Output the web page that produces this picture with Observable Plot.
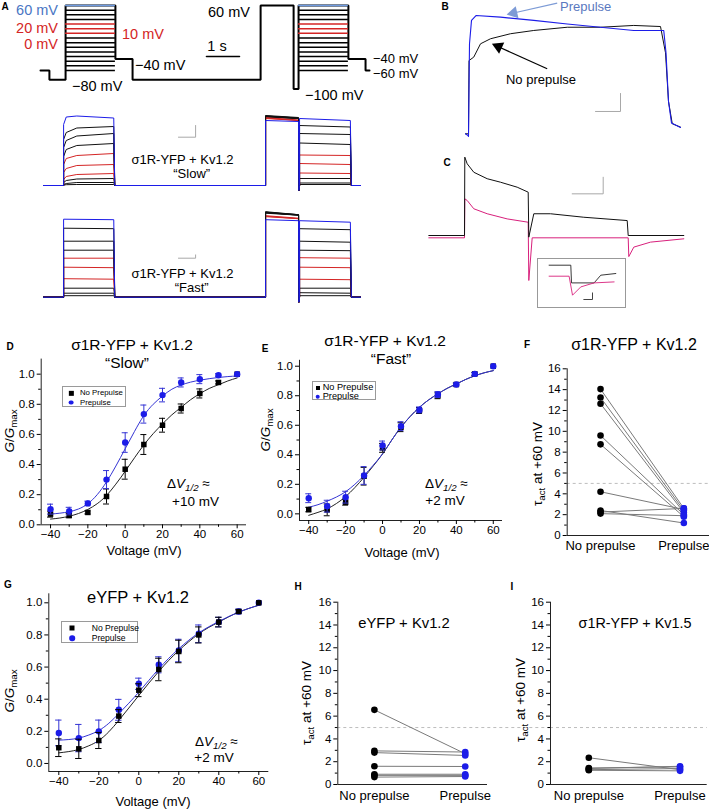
<!DOCTYPE html>
<html><head><meta charset="utf-8">
<script src="https://cdn.jsdelivr.net/npm/d3@7"></script>
<script src="https://cdn.jsdelivr.net/npm/@observablehq/plot@0.6"></script>
<style>
html,body{margin:0;padding:0;background:#fff;}
#root{position:relative;width:709px;height:810px;overflow:hidden;background:#fff;font-family:"Liberation Sans",Arial,Helvetica,sans-serif;color:#000;}
#root svg{position:absolute;overflow:visible;}
.tx{position:absolute;white-space:nowrap;line-height:1;}
.tx sub{font-size:0.72em;vertical-align:-0.3em;line-height:0;}
.lg{position:absolute;border:1px solid #9a9a9a;background:#fff;box-sizing:border-box;}
.lg .row{position:absolute;white-space:nowrap;line-height:1;transform:translateY(-50%);}
.lg .mk{position:absolute;transform:translate(-50%,-50%);}
</style></head><body><div id="root"></div>
<script>
// ===================== DATA =====================
// Panel A – voltage protocol (schematic), time in s, level in mV
const protoT = [0, 0.27, 0.27, 0.76, 0.76, 2.27, 2.27, 2.79, 2.79, 6.67, 6.67, 7.67, 7.67, 7.82, 7.82, 9.33, 9.33, 9.85, 9.85, 9.97];
const protoV = [-80, -80, -100, -100, 60, 60, -55, -55, -100, -100, 60, 60, -120, -120, 60, 60, -55, -55, -80, -80];
const protoLevels = [60, 50, 40, 30, 20, 10, 0, -10, -20, -30, -40, -50, -60, -70, -80];
const protoRedLevels = [20, 10, 0];
const protoStepStart = [0.76, 7.82];
const protoStepEnd = [2.27, 9.33];

// Panel A – current traces (arbitrary units), one row per test level
const traceLevels = [60, 50, 40, 30, 20, 10, 0, -10, -20, -30];
const traceEvents = [0.09, 0.70, 2.22, 6.82, 7.82, 7.85, 9.39, 9.70]; // start, step1 on/off, prepulse on/off, step2 on/off, end
const slowRiseT = [0, 0.08, 0.4];
const slowStep1 = [[6.1,6.85,6.95,6.75],[4.6,5.3,5.75,5.9],[3.8,4.5,4.95,5.2],[2.9,3.6,4.0,4.2],[2.1,2.7,3.0,3.2],[1.3,1.7,2.0,2.1],[0.6,0.9,1.1,1.2],[0.3,0.5,0.65,0.7],[0.1,0.2,0.3,0.3],[0.05,0.08,0.1,0.1]];
const slowPre = [[6.5,6.4],[7.0,6.8],[6.95,6.75],[6.9,6.7],[6.8,6.55],[6.75,6.5],[6.7,6.5],[6.95,6.75],[6.9,6.7],[6.85,6.7]];
const slowStep2 = [[6.7,6.5],[6.0,5.85],[5.2,5.1],[4.25,4.1],[3.05,3.0],[2.2,2.1],[1.25,1.2],[0.7,0.7],[0.25,0.25],[0.1,0.1]];
const fastStep1 = [[7.8,7.75],[6.9,6.85],[5.6,5.6],[4.7,4.7],[3.9,3.9],[3.0,2.95],[1.85,1.8],[0.9,0.9],[0.4,0.4],[0.15,0.15]];
const fastPre = [[7.75,7.65],[8.55,8.25],[8.5,8.2],[8.45,8.2],[8.15,7.9],[8.1,7.85],[8.05,7.85],[8.5,8.25],[8.45,8.25],[8.4,8.2]];
const fastStep2 = [[7.65,7.5],[6.85,6.75],[5.6,5.5],[4.7,4.65],[3.95,3.9],[3.0,2.95],[1.8,1.75],[0.9,0.9],[0.45,0.4],[0.15,0.15]];
const slowBar = [4.70, 4.83, 0.52, 1.17]; // corner t, corner I, dt, dI
const fastBar = [4.70, 3.90, 0.52, 0.33];

// Panel B – currents at +60 mV (t ms, I nA)
const bBlueT = [-12, -2, 0, 4, 12, 30, 128, 261, 395, 528, 661, 781, 790, 800, 812, 848];
const bBlueI = [0, -0.1, -0.15, 5.0, 6.3, 6.57, 6.48, 6.3, 6.1, 5.92, 5.74, 5.74, 4.5, 1.8, 0.6, 0.35];
const bBlackT = [-12, 0, 2, 21, 48, 88, 168, 261, 395, 528, 661, 768, 788, 800, 815, 848];
const bBlackI = [0, 0, 4.07, 4.26, 5.0, 5.28, 5.56, 5.74, 5.92, 5.92, 6.02, 5.96, 4.5, 1.8, 0.56, 0.37];
const bArrowFrom = [[354.8, 7.26], [314.8, 3.61]];
const bArrowTo = [[168, 6.67], [108, 4.91]];
const bBar = [608, 1.24, 100, 1.0];

// Panel C – gating/ionic currents
const cBlackT = [-144, -1.2, 0, 9.6, 36, 89.6, 142.8, 209.6, 253.6, 256, 276, 342.8, 476, 649.6, 653.6, 876];
const cBlackI = [0, 0, 4.72, 4.32, 3.81, 3.42, 3.21, 2.91, 2.61, -0.1, 1.31, 1.31, 1.1, 0.9, 0, 0];
const cPinkT = [-144, -1.2, 0, 9.6, 36, 89.6, 169.6, 253.6, 256, 269.6, 653.6, 656, 676, 742.8, 876];
const cPinkI = [-0.14, -0.14, 2.21, 2.11, 1.61, 1.31, 1.0, 0.8, -2.71, -0.14, -0.14, -1.27, -0.7, -0.4, -0.2];
const cBar = [553.6, 2.51, 124, 1.0];
const insetBlackT = [11.6, 33.3, 34, 56.6, 63.3, 78.3];
const insetBlackI = [1.33, 1.33, -0.44, -0.44, 0.33, 0.5];
const insetPinkT = [11.6, 31.6, 35, 43.3, 56.6, 76.6];
const insetPinkI = [0.23, 0.23, -1.67, -0.84, -0.44, -0.34];
const insetBar = [55, -2.1, 8.7, 0.66];

// Panels D, E, G – G/Gmax vs voltage
const volts = [-40, -30, -20, -10, 0, 10, 20, 30, 40, 50, 60];
const fitVolts = [-40, -35, -30, -25, -20, -15, -10, -5, 0, 5, 10, 15, 20, 25, 30, 35, 40, 45, 50, 55, 60];
const dNoPre = [0.071, 0.062, 0.082, 0.188, 0.369, 0.533, 0.661, 0.772, 0.872, 0.945, 1.0];
const dNoPreErr = [0.02, 0.015, 0.01, 0.05, 0.066, 0.066, 0.046, 0.03, 0.03, 0.01, 0];
const dPre = [0.104, 0.091, 0.142, 0.30, 0.546, 0.735, 0.861, 0.945, 0.967, 0.993, 1.0];
const dPreErr = [0.033, 0.025, 0.015, 0.06, 0.065, 0.06, 0.045, 0.03, 0.03, 0.01, 0];
const dFitNo = [0.038, 0.045, 0.057, 0.075, 0.102, 0.14, 0.195, 0.27, 0.355, 0.445, 0.53, 0.605, 0.67, 0.73, 0.78, 0.83, 0.87, 0.905, 0.93, 0.955, 0.975];
const dFitPre = [0.071, 0.077, 0.087, 0.105, 0.14, 0.2, 0.285, 0.39, 0.505, 0.62, 0.725, 0.8, 0.855, 0.9, 0.928, 0.947, 0.96, 0.97, 0.978, 0.984, 0.988];
const eNoPre = [0.029, 0.027, 0.079, 0.255, 0.447, 0.587, 0.70, 0.80, 0.876, 0.948, 1.0];
const eNoPreErr = [0.015, 0.04, 0.02, 0.06, 0.03, 0.03, 0.02, 0.02, 0.01, 0.01, 0];
const ePre = [0.106, 0.052, 0.113, 0.26, 0.463, 0.594, 0.704, 0.808, 0.876, 0.948, 1.0];
const ePreErr = [0.03, 0.04, 0.04, 0.06, 0.03, 0.03, 0.02, 0.02, 0.01, 0.01, 0];
const eFitNo = [-0.01, 0.01, 0.034, 0.07, 0.117, 0.178, 0.248, 0.325, 0.406, 0.5, 0.587, 0.66, 0.722, 0.772, 0.813, 0.85, 0.88, 0.91, 0.935, 0.955, 0.97];
const eFitPre = [0.045, 0.062, 0.086, 0.114, 0.15, 0.2, 0.26, 0.33, 0.406, 0.5, 0.587, 0.66, 0.722, 0.772, 0.813, 0.85, 0.88, 0.91, 0.935, 0.955, 0.97];
const gNoPre = [0.098, 0.091, 0.143, 0.295, 0.456, 0.585, 0.697, 0.80, 0.88, 0.946, 1.0];
const gNoPreErr = [0.055, 0.06, 0.05, 0.04, 0.04, 0.07, 0.07, 0.05, 0.03, 0.01, 0];
const gPre = [0.19, 0.158, 0.20, 0.334, 0.496, 0.614, 0.703, 0.807, 0.88, 0.946, 1.0];
const gPreErr = [0.08, 0.085, 0.07, 0.065, 0.035, 0.05, 0.07, 0.055, 0.03, 0.015, 0];
const gFitNo = [0.066, 0.074, 0.087, 0.11, 0.143, 0.197, 0.268, 0.345, 0.423, 0.5, 0.573, 0.642, 0.703, 0.758, 0.807, 0.847, 0.88, 0.913, 0.942, 0.965, 0.985];
const gFitPre = [0.145, 0.149, 0.158, 0.177, 0.205, 0.25, 0.31, 0.375, 0.444, 0.517, 0.589, 0.655, 0.714, 0.767, 0.813, 0.851, 0.884, 0.915, 0.942, 0.965, 0.985];
const gvTicksMajor = [-40, -20, 0, 20, 40, 60];
const gvTicksMinor = [-30, -10, 10, 30, 50];
const gTicksMajor = [0, 0.2, 0.4, 0.6, 0.8, 1.0];
const gTicksMinor = [0.1, 0.3, 0.5, 0.7, 0.9];

// Panels F, H, I – tau_act at +60 mV, paired cells
const tauCats = ["No prepulse", "Prepulse"];
const fNoPre = [14.05, 13.25, 12.65, 9.6, 8.75, 4.2, 2.4, 2.25, 2.1];
const fPre = [2.6, 2.4, 2.2, 2.0, 1.8, 2.5, 1.2, 2.6, 1.9];
const hNoPre = [6.55, 2.95, 2.8, 1.6, 0.9, 0.8, 0.65];
const hPre = [2.7, 2.85, 2.55, 1.58, 0.9, 0.8, 0.7];
const iNoPre = [2.35, 1.45, 1.4, 1.3, 1.25];
const iPre = [1.3, 1.55, 1.6, 1.4, 1.2];
const tauThreshold = [5];
const tauTicksMajor = [0, 2, 4, 6, 8, 10, 12, 14, 16];
const tauTicksMinor = [1, 3, 5, 7, 9, 11, 13, 15];

// ===================== STYLE =====================
const FONT = '"Liberation Sans", Arial, Helvetica, sans-serif';
const BLUE = "#1c1ce8";
const FITBLUE = "#3434d4";
const RED = "#d42525";
const PINK = "#d8207c";
const PROTOBLUE = "#6f9be0";
const LABELBLUE = "#4a76c4";
const root = document.getElementById("root");
const baseStyle = {background: "none", overflow: "visible", fontFamily: FONT, fontSize: "11.5px", color: "#000"};

function put(svg, left, top) { svg.style.left = left + "px"; svg.style.top = top + "px"; root.appendChild(svg); }
function T(html, x, y, o = {}) {
  const d = document.createElement("div");
  d.className = "tx"; d.innerHTML = html;
  d.style.fontSize = (o.size || 13) + "px";
  if (o.lh) d.style.lineHeight = o.lh;
  d.style.left = x + "px"; d.style.top = y + "px";
  if (o.color) d.style.color = o.color;
  if (o.bold) d.style.fontWeight = "bold";
  const ax = o.anchor === "start" ? "0" : o.anchor === "end" ? "-100%" : "-50%";
  d.style.transform = `translate(${ax},-50%)` + (o.rotate ? ` rotate(${o.rotate}deg)` : "");
  root.appendChild(d);
}
const zipTI = (t, i) => t.map((v, k) => ({t: v, i: i[k]}));
const lBar = ([t, i, dt, di]) => [{t: t - dt, i}, {t, i}, {t, i: i + di}];
const levelColor = v => v === 60 ? BLUE : protoRedLevels.includes(v) ? RED : "#111";

// ===================== PANEL A: protocol =====================
{
  const path = zipTI(protoT, protoV);
  const segs = [];
  protoStepStart.forEach((s, w) => protoLevels.forEach(v => segs.push({v, s, e: protoStepEnd[w]})));
  const svg = Plot.plot({
    width: 380, height: 100, margin: 0,
    x: {domain: [0, 10], range: [40, 370], axis: null},
    y: {domain: [-80, 60], range: [70, 5], axis: null},
    style: baseStyle,
    marks: [
      Plot.line(path, {x: "t", y: "i", stroke: "#000", strokeWidth: 2, strokeLinejoin: "miter"}),
      Plot.ruleY(segs, {y: "v", x1: "s", x2: "e", stroke: d => d.v === 60 ? PROTOBLUE : protoRedLevels.includes(d.v) ? RED : "#000", strokeWidth: 1.5})
    ]
  });
  put(svg, 0, 0);
  const sb = Plot.plot({
    width: 380, height: 100, margin: 0,
    x: {domain: [0, 10], range: [40, 370], axis: null},
    y: {domain: [0, 1], range: [56, 0], axis: null},
    style: baseStyle,
    marks: [Plot.line([{t: 5.03, i: 0}, {t: 6.03, i: 0}], {x: "t", y: "i", stroke: "#000", strokeWidth: 1.6})]
  });
  put(sb, 0, 0);
}

// ===================== PANEL A: traces =====================
function buildTrace(s1, pre, s2) {
  const [t0, on1, off1, onP, offP, on2, off2, tEnd] = traceEvents;
  const p = [[t0, 0], [on1, 0]];
  if (s1.length === 4) { p.push([on1, s1[0]], [on1 + slowRiseT[1], s1[1]], [on1 + slowRiseT[2], s1[2]], [off1, s1[3]]); }
  else { p.push([on1, s1[0]], [off1, s1[1]]); }
  p.push([off1 + 0.03, 0], [onP, 0], [onP, pre[0]], [offP, pre[1]], [offP + 0.01, -0.5], [on2, 0], [on2, s2[0]], [off2, s2[1]], [off2 + 0.03, 0], [tEnd, 0]);
  return p.map(([t, i]) => ({t, i}));
}
function tracePlot(step1, pre, step2, yDom, yRange, bar, h) {
  const order = traceLevels.map((v, k) => k).reverse();
  const marks = order.map(k => Plot.line(buildTrace(step1[k], pre[k], step2[k]), {x: "t", y: "i", stroke: levelColor(traceLevels[k]), strokeWidth: 1}));
  marks.push(Plot.line(lBar(bar), {x: "t", y: "i", stroke: "#a8a8a8", strokeWidth: 1}));
  return Plot.plot({
    width: 380, height: h, margin: 0,
    x: {domain: [0, 10], range: [40, 370], axis: null},
    y: {domain: yDom, range: yRange, axis: null},
    style: baseStyle, marks
  });
}
put(tracePlot(slowStep1, slowPre, slowStep2, [0, 7], [85, 15], slowBar, 100), 0, 100);
put(tracePlot(fastStep1, fastPre, fastStep2, [0, 8.6], [96.7, 10.7], fastBar, 110), 0, 200);

// ===================== PANEL B =====================
{
  const bx = d3.scaleLinear().domain([0, 800]).range([68, 268]);
  const by = d3.scaleLinear().domain([0, 7]).range([133.3, 7.3]);
  const arrows = bArrowFrom.map((f, k) => {
    const [t2, i2] = bArrowTo[k];
    const dx = bx(t2) - bx(f[0]), dy = by(i2) - by(f[1]);
    const len = Math.hypot(dx, dy);
    const back = 3.2;
    return {t1: f[0], i1: f[1], t2, i2, rot: Math.atan2(dx, -dy) * 180 / Math.PI,
      tc: bx.invert(bx(t2) - dx / len * back), ic: by.invert(by(i2) - dy / len * back), c: k === 0 ? "#7d9bd6" : "#000"};
  });
  const svg = Plot.plot({
    width: 309, height: 145, margin: 0,
    x: {domain: bx.domain(), range: bx.range(), axis: null},
    y: {domain: by.domain(), range: by.range(), axis: null},
    style: baseStyle,
    marks: [
      Plot.line(zipTI(bBlackT, bBlackI), {x: "t", y: "i", stroke: "#111", strokeWidth: 1}),
      Plot.line(zipTI(bBlueT, bBlueI), {x: "t", y: "i", stroke: BLUE, strokeWidth: 1.1}),
      Plot.line(lBar(bBar), {x: "t", y: "i", stroke: "#a8a8a8", strokeWidth: 1}),
      Plot.link(arrows, {x1: "t1", y1: "i1", x2: "tc", y2: "ic", stroke: "c", strokeWidth: 1.2}),
      Plot.dot(arrows, {x: "tc", y: "ic", symbol: "triangle", rotate: "rot", r: 4.6, fill: "c", stroke: "none"})
    ]
  });
  put(svg, 400, 0);
}

// ===================== PANEL C =====================
{
  const svg = Plot.plot({
    width: 309, height: 170, margin: 0,
    x: {domain: [0, 800], range: [64.3, 264.3], axis: null},
    y: {domain: [0, 5], range: [90, 7], axis: null},
    style: baseStyle,
    marks: [
      Plot.line(zipTI(cPinkT, cPinkI), {x: "t", y: "i", stroke: PINK, strokeWidth: 1}),
      Plot.line(zipTI(cBlackT, cBlackI), {x: "t", y: "i", stroke: "#111", strokeWidth: 1}),
      Plot.line(lBar(cBar), {x: "t", y: "i", stroke: "#a8a8a8", strokeWidth: 1})
    ]
  });
  put(svg, 400, 145);
  const inset = Plot.plot({
    width: 88, height: 49, margin: 0,
    x: {domain: [0, 88], range: [0, 88], axis: null},
    y: {domain: [0, 2], range: [20, 0], axis: null},
    style: baseStyle,
    marks: [
      Plot.frame({stroke: "#999", strokeWidth: 1}),
      Plot.line(zipTI(insetBlackT, insetBlackI), {x: "t", y: "i", stroke: "#222", strokeWidth: 0.9}),
      Plot.line(zipTI(insetPinkT, insetPinkI), {x: "t", y: "i", stroke: PINK, strokeWidth: 0.9}),
      Plot.line(lBar(insetBar), {x: "t", y: "i", stroke: "#444", strokeWidth: 1})
    ]
  });
  put(inset, 536.7, 258.3);
}

// ===================== PANELS D, E, G =====================
function gvPlot(o) {
  const mk = (m, e) => volts.map((v, k) => ({v, m: m[k], e: e[k]}));
  const noData = mk(o.no, o.noErr), preData = mk(o.pre, o.preErr);
  const fit = f => fitVolts.map((v, k) => ({v, g: f[k]}));
  const cap = 1.6;
  const err = (data, c) => {
    const d = data.filter(x => x.e > 0);
    return [
      Plot.ruleX(d, {x: "v", y1: x => x.m - x.e, y2: x => x.m + x.e, stroke: c, strokeWidth: 1}),
      Plot.ruleY(d, {y: x => x.m + x.e, x1: x => x.v - cap, x2: x => x.v + cap, stroke: c, strokeWidth: 1}),
      Plot.ruleY(d, {y: x => x.m - x.e, x1: x => x.v - cap, x2: x => x.v + cap, stroke: c, strokeWidth: 1})
    ];
  };
  const blackDots = Plot.dot(noData, {x: "v", y: "m", symbol: "square", r: 3.1, fill: "#000", stroke: "none"});
  const blueDots = Plot.dot(preData, {x: "v", y: "m", symbol: "circle", r: 3.2, fill: BLUE, stroke: "none"});
  return Plot.plot({
    width: o.w, height: o.h, marginLeft: o.ml, marginRight: o.mr, marginTop: o.mt, marginBottom: o.mb,
    x: {domain: [-45, 65]}, y: {domain: o.ydom},
    style: baseStyle,
    marks: [
      Plot.ruleX([-45], {stroke: "#222"}),
      Plot.ruleY([o.ydom[0]], {stroke: "#222"}),
      Plot.axisX(gvTicksMajor, {tickSize: 4, tickPadding: 1.5, tickFormat: d3.format("d"), label: null}),
      Plot.axisX(gvTicksMinor, {tickSize: 2.5, tickFormat: () => "", label: null}),
      Plot.axisY(gTicksMajor, {tickSize: 4, tickPadding: 2.5, tickFormat: d3.format(".1f"), label: null}),
      Plot.axisY(gTicksMinor, {tickSize: 2.5, tickFormat: () => "", label: null}),
      Plot.line(fit(o.fitNo), {x: "v", y: "g", stroke: "#222", strokeWidth: 1, curve: "natural"}),
      Plot.line(fit(o.fitPre), {x: "v", y: "g", stroke: FITBLUE, strokeWidth: 1, curve: "natural"}),
      ...(o.blueFirst ? [...err(preData, FITBLUE), blueDots, ...err(noData, "#000"), blackDots]
                      : [...err(noData, "#000"), blackDots, ...err(preData, FITBLUE), blueDots])
    ]
  });
}
put(gvPlot({w: 250, h: 215, ml: 40.7, mr: 4, mt: 28.6, mb: 20.7, ydom: [0, 1.1],
  no: dNoPre, noErr: dNoPreErr, pre: dPre, preErr: dPreErr, fitNo: dFitNo, fitPre: dFitPre}), 0, 330);
put(gvPlot({w: 255, h: 215, ml: 49, mr: 3, mt: 29.8, mb: 25, ydom: [-0.045, 1.04],
  no: eNoPre, noErr: eNoPreErr, pre: ePre, preErr: ePreErr, fitNo: eFitNo, fitPre: eFitPre}), 250, 330);
put(gvPlot({w: 275, h: 210, ml: 48.3, mr: 6.7, mt: 13.3, mb: 19, ydom: [-0.05, 1.056], blueFirst: true,
  no: gNoPre, noErr: gNoPreErr, pre: gPre, preErr: gPreErr, fitNo: gFitNo, fitPre: gFitPre}), 0, 580);

// ===================== PANELS F, H, I =====================
function tauPlot(o) {
  const long = [];
  o.no.forEach((v, k) => { long.push({cat: tauCats[0], pair: k, tau: v}); long.push({cat: tauCats[1], pair: k, tau: o.pre[k]}); });
  const xi = d => tauCats.indexOf(d.cat);
  const dash = o.dashTo != null ? {x1: o.xdom[0], x2: o.dashTo} : {};
  return Plot.plot({
    width: o.w, height: o.h, marginLeft: o.ml, marginRight: o.mr, marginTop: o.mt, marginBottom: o.mb,
    x: {domain: o.xdom}, y: {domain: [0, 16]},
    style: baseStyle,
    marks: [
      Plot.ruleY(tauThreshold, {...dash, stroke: "#bdbdbd", strokeWidth: 1, strokeDasharray: "3,3"}),
      Plot.ruleX([o.xdom[0]], {stroke: "#222"}),
      Plot.ruleY([0], {stroke: "#222"}),
      Plot.axisY(tauTicksMajor, {tickSize: 4, tickPadding: 2.5, label: null}),
      Plot.axisY(tauTicksMinor, {tickSize: 2.5, tickFormat: () => "", label: null}),
      Plot.axisX([0, 1], {tickSize: 0, tickPadding: o.pad, tickFormat: k => tauCats[k], fontSize: 13, label: null}),
      Plot.line(long, {x: xi, y: "tau", z: "pair", stroke: "#7a7a7a", strokeWidth: 1}),
      Plot.dot(long.filter(d => d.cat === tauCats[0]), {x: xi, y: "tau", r: 3.3, fill: "#000", stroke: "none"}),
      Plot.dot(long.filter(d => d.cat === tauCats[1]), {x: xi, y: "tau", r: 3.3, fill: BLUE, stroke: "none"})
    ]
  });
}
put(tauPlot({w: 189, h: 225, ml: 46.7, mr: 0, mt: 38.3, mb: 20, xdom: [-0.4, 1.308], pad: 5, no: fNoPre, pre: fPre}), 520, 330);
put(tauPlot({w: 262, h: 230, ml: 47.3, mr: 65, mt: 21.7, mb: 26, xdom: [-0.403, 1.245], dashTo: 1.934, pad: 6, no: hNoPre, pre: hPre}), 290, 580);
put(tauPlot({w: 209, h: 230, ml: 50, mr: 2.3, mt: 21.7, mb: 26, xdom: [-0.42, 1.298], pad: 6, no: iNoPre, pre: iPre}), 500, 580);

// ===================== LEGENDS =====================
function legend(x0, y0, x1, y1, mx, tx, rows, size, sq, ci) {
  const d = document.createElement("div");
  d.className = "lg";
  d.style.left = x0 + "px"; d.style.top = y0 + "px";
  d.style.width = (x1 - x0) + "px"; d.style.height = (y1 - y0) + "px";
  rows.forEach((r, k) => {
    const m = document.createElement("div");
    m.className = "mk";
    m.style.left = (mx - x0) + "px"; m.style.top = (r.y - y0) + "px";
    const s = k === 0 ? sq : ci;
    m.style.width = s + "px"; m.style.height = s + "px";
    m.style.background = k === 0 ? "#000" : BLUE;
    if (k === 1) m.style.borderRadius = "50%";
    d.appendChild(m);
    const t = document.createElement("div");
    t.className = "row"; t.textContent = r.label;
    t.style.left = (tx - x0) + "px"; t.style.top = (r.y - y0) + "px"; t.style.fontSize = size + "px";
    d.appendChild(t);
  });
  root.appendChild(d);
}
legend(61.7, 386, 125.7, 407, 70.5, 79, [{label: "No Prepulse", y: 392.3}, {label: "Prepulse", y: 401.5}], 7.8, 4.3, 4.8);
legend(312.3, 380.7, 375.7, 400, 316.7, 321.7, [{label: "No Prepulse", y: 387.3}, {label: "Prepulse", y: 395.7}], 9.2, 4, 4.6);
legend(60.7, 620.7, 138.3, 643.3, 71.2, 90.7, [{label: "No Prepulse", y: 626.7}, {label: "Prepulse", y: 637.3}], 8.6, 5, 5.6);

// ===================== TEXT =====================
[["A", 5, 7], ["B", 445, 7], ["C", 447, 163], ["D", 10, 347], ["E", 265, 349], ["F", 527, 345], ["G", 8, 585], ["H", 298, 587], ["I", 512, 587]]
  .forEach(([s, x, y]) => T(s, x, y, {size: 10, bold: true}));
T("60 mV", 58, 10, {size: 14.5, anchor: "end", color: LABELBLUE});
T("20 mV", 58, 28, {size: 14.5, anchor: "end", color: RED});
T("0 mV", 58, 44, {size: 14.5, anchor: "end", color: RED});
T("10 mV", 122, 34, {size: 14.5, anchor: "start", color: RED});
T("−80 mV", 72, 86, {size: 14.5, anchor: "start"});
T("−40 mV", 135, 65, {size: 14.5, anchor: "start"});
T("1 s", 217, 46, {size: 14.5});
T("60 mV", 208, 12, {size: 14.5, anchor: "start"});
T("−100 mV", 305, 95, {size: 14.5, anchor: "start"});
T("−40 mV", 373, 57.5, {size: 13, anchor: "start"});
T("−60 mV", 373, 73, {size: 13, anchor: "start"});
T("σ1R-YFP + Kv1.2", 182.5, 158.5, {size: 13});
T("“Slow”", 191.7, 173.3, {size: 13});
T("σ1R-YFP + Kv1.2", 182.5, 273.3, {size: 13});
T("“Fast”", 191.7, 287, {size: 13});
T("Prepulse", 560, 6, {size: 13, anchor: "start", color: "#5a78c0"});
T("No prepulse", 541, 79, {size: 13});
T("σ1R-YFP + Kv1.2", 132, 344.5, {size: 15.5});
T("“Slow”", 127, 362.5, {size: 15.5});
T("σ1R-YFP + Kv1.2", 385, 341, {size: 15.5});
T("“Fast”", 391, 359, {size: 15.5});
T("σ1R-YFP + Kv1.2", 634, 345, {size: 16});
T("eYFP + Kv1.2", 138, 597, {size: 16.5});
T("eYFP + Kv1.2", 404, 623, {size: 14.8});
T("σ1R-YFP + Kv1.5", 635, 623, {size: 14.4});
const gLab = "<i>G</i>/<i>G</i><sub>max</sub>";
T(gLab, 10, 431, {size: 13.5, rotate: -90});
T(gLab, 266, 430, {size: 13.5, rotate: -90});
T(gLab, 10, 691, {size: 13.5, rotate: -90});
const tLab = "τ<sub>act</sub> at +60 mV";
T(tLab, 538, 464, {size: 13.5, rotate: -90});
T(tLab, 307, 703, {size: 13.5, rotate: -90});
T(tLab, 521, 700, {size: 13.5, rotate: -90});
T("Voltage (mV)", 144, 550, {size: 13});
T("Voltage (mV)", 402, 552, {size: 13});
T("Voltage (mV)", 153, 801, {size: 13});
const dv = "Δ<i>V</i><sub><i>1/2</i></sub> ≈";
T(dv, 167, 484, {size: 13.5, anchor: "start"});
T("+10 mV", 195.5, 501.5, {size: 13.5});
T(dv, 425, 483.5, {size: 13.5, anchor: "start"});
T("+2 mV", 445, 500.5, {size: 13.5});
T(dv, 195, 741.5, {size: 13.5, anchor: "start"});
T("+2 mV", 214, 758, {size: 13.5});
</script></body></html>
